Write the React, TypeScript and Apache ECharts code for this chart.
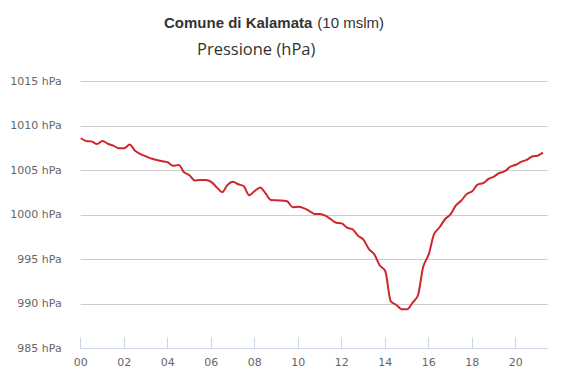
import React, { useEffect, useRef } from "react";
import * as echarts from "echarts";

// 15-minute readings from 00:00 to 21:15
const times: string[] = [];
for (let h = 0; h <= 21; h++) {
  for (const m of [0, 15, 30, 45]) {
    if (h === 21 && m > 15) break;
    times.push(String(h).padStart(2, "0") + ":" + String(m).padStart(2, "0"));
  }
}

const pressure: number[] = [
  1008.6, 1008.3, 1008.25, 1007.95, 1008.3, 1007.98, 1007.78, 1007.47,
  1007.48, 1007.9, 1007.2, 1006.82, 1006.57, 1006.32, 1006.15, 1006.02,
  1005.9, 1005.5, 1005.6, 1004.78, 1004.45, 1003.85, 1003.9, 1003.9,
  1003.7, 1003.1, 1002.55, 1003.35, 1003.7, 1003.43, 1003.2, 1002.2,
  1002.67, 1003.08, 1002.4, 1001.65, 1001.64, 1001.6, 1001.5, 1000.85,
  1000.9, 1000.75, 1000.45, 1000.1, 1000.1, 999.9, 999.5, 999.1,
  999.04, 998.55, 998.37, 997.65, 997.2, 996.15, 995.55, 994.3,
  993.7, 990.3, 989.9, 989.4, 989.38, 990.1, 990.9, 994.2,
  995.55, 997.85, 998.6, 999.5, 1000.05, 1001.05, 1001.6, 1002.33,
  1002.65, 1003.4, 1003.55, 1004.03, 1004.3, 1004.7, 1004.9, 1005.4,
  1005.62, 1005.95, 1006.18, 1006.55, 1006.64, 1006.98,
];

const hourTickLabels: string[] = ["00", "02", "04", "06", "08", "10", "12", "14", "16", "18", "20"];
const yTicks: number[] = [985, 990, 995, 1000, 1005, 1010, 1015];

const toHours = (t: string) => {
  const [h, m] = t.split(":").map(Number);
  return h + m / 60;
};

export default function App() {
  const ref = useRef<HTMLDivElement>(null);
  useEffect(() => {
    if (!ref.current) return;
    const chart = echarts.init(ref.current, null, { renderer: "svg" });
    const data = times.map((t, i) => [toHours(t), pressure[i]]);
    const tickVals = hourTickLabels.map((s) => Number(s));
    chart.setOption({
      animation: false,
      backgroundColor: "#ffffff",
      title: [
        {
          text: "{b|Comune di Kalamata} {n|(10 mslm)}",
          left: 159,
          top: 8,
          textStyle: {
            rich: {
              b: { fontFamily: "Liberation Sans", fontWeight: "bold", fontSize: 15, color: "#333333" },
              n: { fontFamily: "Liberation Sans", fontWeight: "normal", fontSize: 15, color: "#333333" },
            },
          },
        },
        {
          text: "Pressione (hPa)",
          left: 192,
          top: 35,
          textStyle: { fontFamily: "Open Sans", fontWeight: "normal", fontSize: 16.5, color: "#333333" },
        },
      ],
      grid: { left: 80.7, right: 20.3, top: 81.3, bottom: 39.7, containLabel: false },
      xAxis: {
        type: "value",
        min: 0,
        max: 21.47,
        interval: 2,
        axisLine: { show: true, lineStyle: { color: "#ccd6eb", width: 1 } },
        axisTick: { show: true, inside: true, length: 11, customValues: tickVals, lineStyle: { color: "#ccd6eb" } },
        axisLabel: {
          customValues: tickVals,
          formatter: (v: number) => String(Math.round(v)).padStart(2, "0"),
          color: "#666666",
          fontFamily: "DejaVu Sans",
          fontSize: 11,
          margin: 9,
        },
        splitLine: { show: false },
      },
      yAxis: {
        type: "value",
        min: yTicks[0],
        max: yTicks[yTicks.length - 1],
        interval: 5,
        axisLine: { show: false },
        axisTick: { show: false },
        axisLabel: {
          formatter: (v: number) => v + " hPa",
          color: "#666666",
          fontFamily: "DejaVu Sans",
          fontSize: 11,
          margin: 19,
        },
        splitLine: { show: true, lineStyle: { color: "#cccccc", width: 1 } },
      },
      series: [
        {
          type: "line",
          data,
          smooth: 0.3,
          showSymbol: false,
          lineStyle: { color: "#cf262d", width: 2 },
          itemStyle: { color: "#cf262d" },
        },
      ],
    });
    return () => chart.dispose();
  }, []);
  return <div ref={ref} style={{ width: 568, height: 388, position: "absolute", left: 0, top: 0 }} />;
}
